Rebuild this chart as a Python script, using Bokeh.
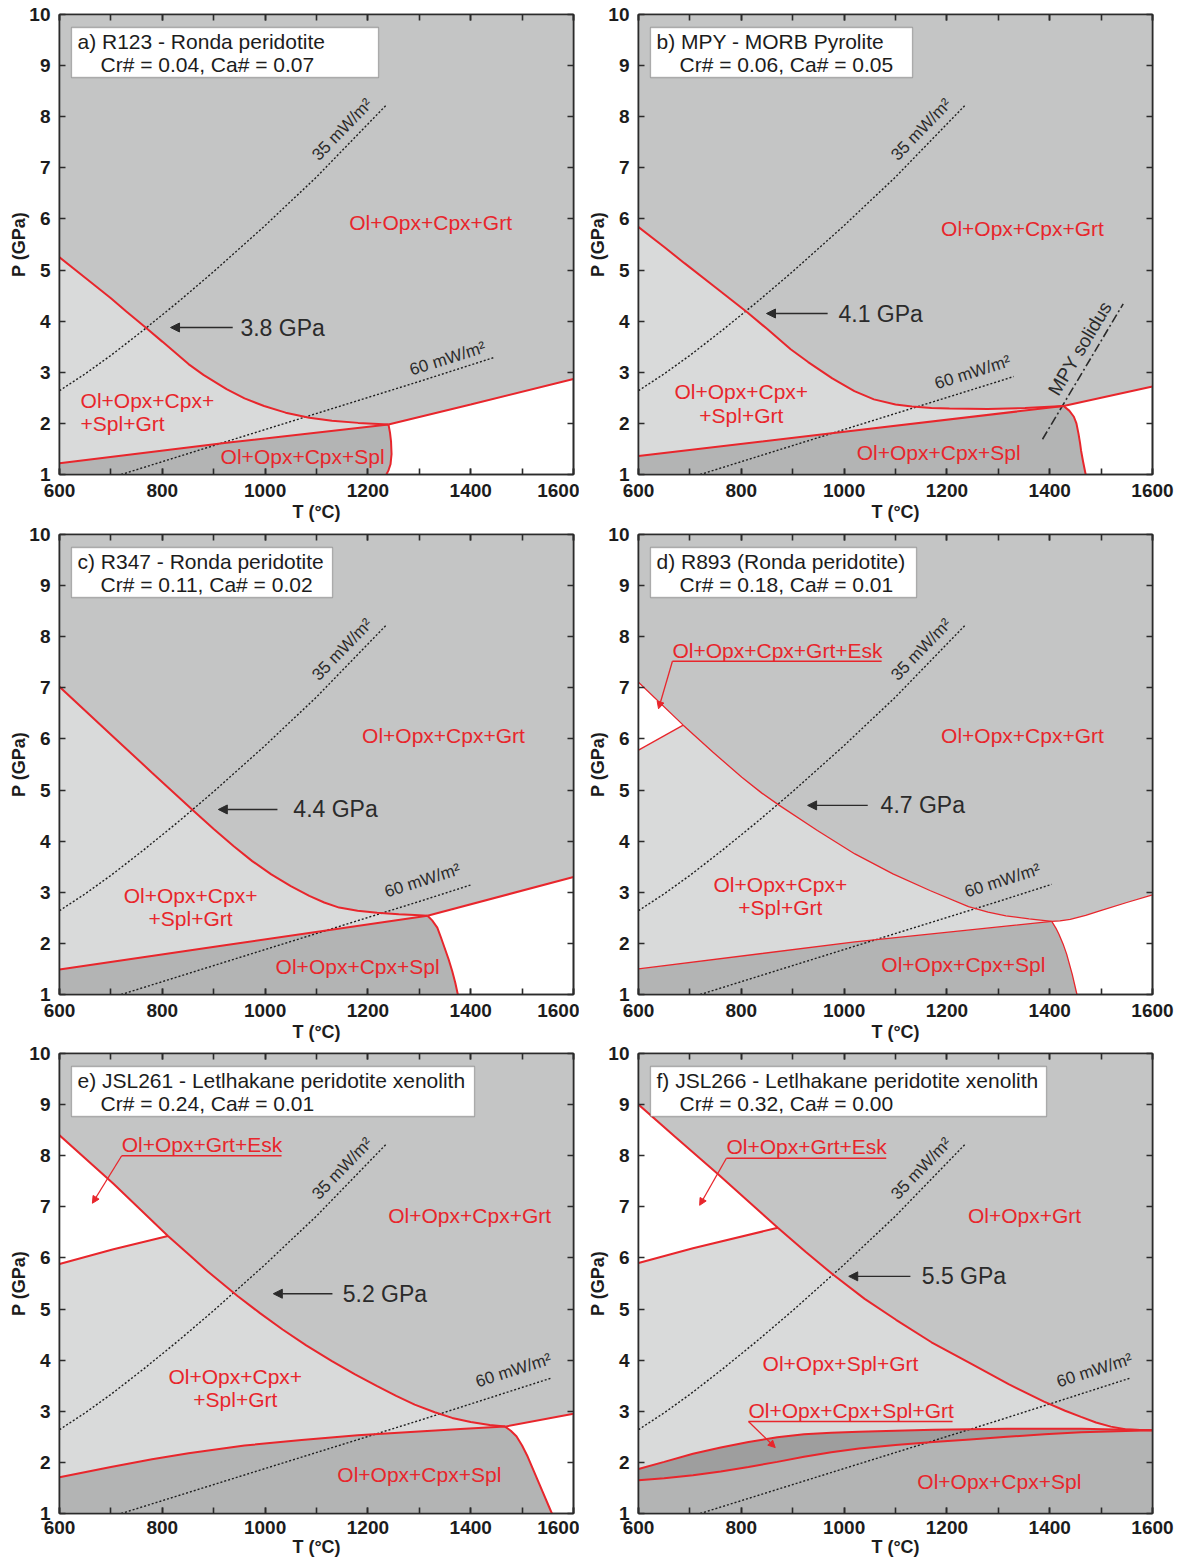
import numpy as np
from bokeh.embed import file_html
from bokeh.layouts import column, row
from bokeh.models import (Arrow, BoxAnnotation, CustomLabelingPolicy, Label, LinearAxis,
                          NormalHead, Range1d, SingleIntervalTicker)
from bokeh.plotting import figure
from bokeh.resources import INLINE

# ---------------------------------------------------------------- samples
panel_letters = ["a", "b", "c", "d", "e", "f"]
sample_names = ["R123 - Ronda peridotite", "MPY - MORB Pyrolite",
                "R347 - Ronda peridotite", "R893 (Ronda peridotite)",
                "JSL261 - Letlhakane peridotite xenolith",
                "JSL266 - Letlhakane peridotite xenolith"]
cr_number = ["0.04", "0.06", "0.11", "0.18", "0.24", "0.32"]
ca_number = ["0.07", "0.05", "0.02", "0.01", "0.01", "0.00"]
# spinel -> garnet transition pressure on the 35 mW/m2 geotherm
transition_gpa = [3.8, 4.1, 4.4, 4.7, 5.2, 5.5]

# ---------------------------------------------------------------- geotherms
geo35_T = [600, 650, 700, 764, 830, 900, 1000, 1100, 1236]
geo35_P = [2.64, 2.97, 3.33, 3.83, 4.37, 4.97, 5.87, 6.82, 8.23]
geo60_T = [720, 1000, 1300, 1560]
geo60_P = [1.00, 1.88, 2.82, 3.66]
geo60_end_T = [1445, 1330, 1401, 1404, 1556, 1557]

mpy_solidus_T = [1386, 1543]
mpy_solidus_P = [1.69, 4.34]

# ---------------------------------------------------------------- phase boundaries
# a) R123
a_spl_out_T = [600, 650, 700, 730, 767, 800, 851, 880, 925, 960, 998, 1040, 1086, 1130, 1181, 1240]
a_spl_out_P = [5.25, 4.85, 4.45, 4.19, 3.88, 3.60, 3.16, 2.95, 2.67, 2.49, 2.34, 2.21, 2.11, 2.05, 2.01, 1.98]
a_grt_in_T = [600, 925, 1240]
a_grt_in_P = [1.22, 1.62, 1.98]
a_sol_grt_T = [1240, 1400, 1600]
a_sol_grt_P = [1.98, 2.37, 2.87]
a_sol_spl_T = [1240, 1243, 1245, 1246, 1244, 1240, 1236]
a_sol_spl_P = [1.98, 1.82, 1.65, 1.40, 1.20, 1.08, 1.00]

# b) MPY
b_spl_out_T = [600, 650, 690, 750, 812, 850, 896, 930, 977, 1020, 1058, 1100, 1132, 1170, 1205, 1279, 1352, 1427]
b_spl_out_P = [5.84, 5.45, 5.13, 4.66, 4.17, 3.85, 3.45, 3.20, 2.88, 2.63, 2.47, 2.37, 2.33, 2.30, 2.29, 2.28, 2.30, 2.34]
b_grt_in_T = [600, 1021, 1427]
b_grt_in_P = [1.36, 1.86, 2.34]
b_sol_grt_T = [1427, 1600]
b_sol_grt_P = [2.34, 2.72]
b_sol_spl_T = [1427, 1438, 1447, 1452, 1456, 1459, 1461, 1465, 1470]
b_sol_spl_P = [2.34, 2.25, 2.13, 2.00, 1.80, 1.62, 1.47, 1.25, 1.00]

# c) R347
c_spl_out_T = [600, 705, 780, 859, 900, 939, 975, 1012, 1050, 1086, 1115, 1144, 1180, 1218, 1260, 1291, 1316]
c_spl_out_P = [7.02, 6.04, 5.34, 4.61, 4.24, 3.90, 3.61, 3.35, 3.12, 2.93, 2.80, 2.70, 2.64, 2.60, 2.57, 2.555, 2.54]
c_grt_in_T = [600, 925, 1316]
c_grt_in_P = [1.49, 1.97, 2.54]
c_sol_grt_T = [1316, 1600]
c_sol_grt_P = [2.54, 3.30]
c_sol_spl_T = [1316, 1325, 1335, 1342, 1349, 1357, 1364, 1370, 1375]
c_sol_spl_P = [2.54, 2.45, 2.31, 2.12, 1.92, 1.69, 1.46, 1.23, 1.00]

# d) R893
d_spl_out_T = [600, 687, 745, 801, 840, 874, 948, 1021, 1095, 1168, 1242, 1280, 1315, 1360, 1404]
d_spl_out_P = [7.11, 6.27, 5.74, 5.25, 4.94, 4.70, 4.21, 3.75, 3.36, 3.03, 2.72, 2.61, 2.54, 2.48, 2.43]
d_esk_out_T = [600, 687]
d_esk_out_P = [5.78, 6.27]
d_grt_in_T = [600, 1021, 1404]
d_grt_in_P = [1.50, 2.03, 2.43]
d_sol_grt_T = [1404, 1420, 1440, 1470, 1499, 1550, 1600]
d_sol_grt_P = [2.43, 2.44, 2.47, 2.55, 2.64, 2.80, 2.95]
d_sol_spl_T = [1404, 1412, 1418, 1426, 1433, 1444, 1453]
d_sol_spl_P = [2.43, 2.30, 2.18, 1.99, 1.79, 1.39, 1.00]

# e) JSL261
e_spl_out_T = [600, 705, 811, 850, 888, 947, 990, 1034, 1080, 1130, 1175, 1218, 1255, 1291, 1330, 1364, 1400, 1437, 1467]
e_spl_out_P = [8.40, 7.45, 6.43, 6.08, 5.74, 5.25, 4.92, 4.60, 4.29, 3.98, 3.72, 3.49, 3.30, 3.13, 2.98, 2.87, 2.79, 2.73, 2.70]
e_esk_out_T = [600, 705, 811]
e_esk_out_P = [5.88, 6.17, 6.43]
e_grt_in_T = [600, 700, 780, 851, 960, 1071, 1180, 1291, 1380, 1467]
e_grt_in_P = [1.71, 1.91, 2.06, 2.18, 2.33, 2.44, 2.53, 2.60, 2.655, 2.70]
e_sol_grt_T = [1467, 1600]
e_sol_grt_P = [2.70, 2.95]
e_sol_spl_T = [1467, 1478, 1489, 1500, 1511, 1533, 1558]
e_sol_spl_P = [2.70, 2.62, 2.51, 2.33, 2.11, 1.59, 1.00]

# f) JSL266
f_spl_out_T = [600, 670, 756, 820, 871, 925, 979, 1040, 1101, 1170, 1245, 1320, 1389, 1430, 1461, 1490, 1519, 1547, 1575, 1600]
f_spl_out_P = [9.00, 8.38, 7.63, 7.05, 6.59, 6.12, 5.67, 5.20, 4.79, 4.35, 3.94, 3.53, 3.19, 3.01, 2.89, 2.78, 2.70, 2.65, 2.635, 2.63]
f_esk_out_T = [600, 706, 871]
f_esk_out_P = [5.90, 6.19, 6.59]
f_cpx_out_T = [600, 650, 706, 760, 814, 870, 922, 975, 1029, 1100, 1173, 1317, 1461, 1600]
f_cpx_out_P = [1.87, 2.01, 2.17, 2.29, 2.40, 2.49, 2.55, 2.58, 2.60, 2.62, 2.64, 2.66, 2.66, 2.63]
f_grt_in_T = [600, 650, 706, 760, 814, 870, 922, 975, 1029, 1100, 1173, 1245, 1317, 1390, 1461, 1530, 1600]
f_grt_in_P = [1.65, 1.69, 1.75, 1.82, 1.91, 2.01, 2.11, 2.20, 2.27, 2.34, 2.40, 2.45, 2.50, 2.55, 2.59, 2.61, 2.63]

# ---------------------------------------------------------------- style
FONT = "Liberation Sans"
RED = "#e8262c"
INK = "#2b2b2b"
GRT_FILL = "#c4c5c5"
SPGRT_FILL = "#d9dada"
SPL_FILL = "#b3b4b4"
BAND_FILL = "#9e9e9e"
T_MIN, T_MAX, P_MIN, P_MAX = 600, 1600, 1, 10

PANELS = [
    dict(spl_out=(a_spl_out_T, a_spl_out_P), grt_in=(a_grt_in_T, a_grt_in_P),
         sol_grt=(a_sol_grt_T, a_sol_grt_P), sol_spl=(a_sol_spl_T, a_sol_spl_P),
         lw=2.0, box_w=319,
         fields=[("Ol+Opx+Cpx+Grt", 1322, 5.93, "center"), ("Ol+Opx+Cpx+", 641, 2.45, "left"),
                 ("+Spl+Grt", 641, 2.00, "left"), ("Ol+Opx+Cpx+Spl", 1073, 1.35, "center")],
         arrow=(816, 3.876, 937, 952), lab60=(1355, 3.27)),
    dict(spl_out=(b_spl_out_T, b_spl_out_P), grt_in=(b_grt_in_T, b_grt_in_P),
         sol_grt=(b_sol_grt_T, b_sol_grt_P), sol_spl=(b_sol_spl_T, b_sol_spl_P),
         lw=2.0, box_w=274,
         fields=[("Ol+Opx+Cpx+Grt", 1347, 5.81, "center"), ("Ol+Opx+Cpx+", 800, 2.62, "center"),
                 ("+Spl+Grt", 800, 2.15, "center"), ("Ol+Opx+Cpx+Spl", 1184, 1.43, "center")],
         arrow=(849, 4.15, 968, 989), lab60=(1250, 3.00), solidus=True),
    dict(spl_out=(c_spl_out_T, c_spl_out_P), grt_in=(c_grt_in_T, c_grt_in_P),
         sol_grt=(c_sol_grt_T, c_sol_grt_P), sol_spl=(c_sol_spl_T, c_sol_spl_P),
         lw=2.0, box_w=273,
         fields=[("Ol+Opx+Cpx+Grt", 1347, 6.07, "center"), ("Ol+Opx+Cpx+", 855, 2.94, "center"),
                 ("+Spl+Grt", 855, 2.49, "center"), ("Ol+Opx+Cpx+Spl", 1180, 1.55, "center")],
         arrow=(909, 4.62, 1024, 1055), lab60=(1306, 3.23)),
    dict(spl_out=(d_spl_out_T, d_spl_out_P), grt_in=(d_grt_in_T, d_grt_in_P),
         sol_grt=(d_sol_grt_T, d_sol_grt_P), sol_spl=(d_sol_spl_T, d_sol_spl_P),
         esk=(d_esk_out_T, d_esk_out_P), lw=1.3, box_w=278,
         fields=[("Ol+Opx+Cpx+Grt", 1347, 6.07, "center"), ("Ol+Opx+Cpx+", 876, 3.15, "center"),
                 ("+Spl+Grt", 876, 2.70, "center"), ("Ol+Opx+Cpx+Spl", 1232, 1.59, "center")],
         callouts=[("Ol+Opx+Cpx+Grt+Esk", 666, 7.73, 7.52, 1073, 639, 6.59)],
         arrow=(929, 4.70, 1046, 1071), lab60=(1308, 3.23)),
    dict(spl_out=(e_spl_out_T, e_spl_out_P), grt_in=(e_grt_in_T, e_grt_in_P),
         sol_grt=(e_sol_grt_T, e_sol_grt_P), sol_spl=(e_sol_spl_T, e_sol_spl_P),
         esk=(e_esk_out_T, e_esk_out_P), lw=2.0, box_w=415,
         fields=[("Ol+Opx+Cpx+Grt", 1398, 6.83, "center"), ("Ol+Opx+Cpx+", 942, 3.68, "center"),
                 ("+Spl+Grt", 942, 3.23, "center"), ("Ol+Opx+Cpx+Spl", 1300, 1.76, "center")],
         callouts=[("Ol+Opx+Grt+Esk", 721, 8.22, 8.00, 1032, 664, 7.07)],
         arrow=(1016, 5.30, 1131, 1151), lab60=(1483, 3.80)),
    dict(spl_out=(f_spl_out_T, f_spl_out_P), grt_in=(f_grt_in_T, f_grt_in_P),
         esk=(f_esk_out_T, f_esk_out_P), cpx=(f_cpx_out_T, f_cpx_out_P), lw=2.0, box_w=408,
         fields=[("Ol+Opx+Grt", 1351, 6.83, "center"), ("Ol+Opx+Spl+Grt", 993, 3.93, "center"),
                 ("Ol+Opx+Cpx+Spl", 1302, 1.63, "center")],
         callouts=[("Ol+Opx+Grt+Esk", 771, 8.18, 7.95, 1082, 719, 7.03),
                   ("Ol+Opx+Cpx+Spl+Grt", 814, 3.02, 2.80, 1211, 866, 2.29)],
         arrow=(1009, 5.64, 1129, 1151), lab60=(1487, 3.80)),
]

FRAME_W, FRAME_H = 514, 460


def px_T(dx):
    """horizontal screen offset from the frame's left edge -> temperature"""
    return T_MIN + dx * (T_MAX - T_MIN) / FRAME_W


def px_P(dy):
    """vertical screen offset from the frame's top edge -> pressure"""
    return P_MAX - dy * (P_MAX - P_MIN) / FRAME_H


def screen_angle_deg(slope):
    return np.degrees(np.arctan(slope * (FRAME_H / (P_MAX - P_MIN)) / (FRAME_W / (T_MAX - T_MIN))))


def clip_line(T, P, t_end):
    T = np.asarray(T, float)
    P = np.asarray(P, float)
    keep = T < t_end
    return list(T[keep]) + [t_end], list(P[keep]) + [float(np.interp(t_end, T, P))]


def style_axis(ax, ticker, labelled):
    ax.ticker = ticker
    ax.axis_line_color = INK
    ax.axis_line_width = 1.6
    ax.major_tick_line_color = INK
    ax.major_tick_line_width = 1.6
    ax.major_tick_in = 6
    ax.major_tick_out = 0
    ax.minor_tick_line_color = INK
    ax.minor_tick_line_width = 1.6
    ax.minor_tick_in = 6
    ax.minor_tick_out = 0
    ax.major_label_text_font = FONT
    ax.major_label_text_font_style = "bold"
    ax.major_label_text_color = "#1c1c1c"
    ax.axis_label_text_font = FONT
    ax.axis_label_text_font_style = "bold"
    ax.axis_label_text_font_size = "18px"
    ax.axis_label_text_color = "#1c1c1c"
    if labelled:
        ax.major_label_text_font_size = "19px"
    else:
        # ticks only on the top / right edges of the frame
        ax.major_label_text_font_size = "1px"
        ax.major_label_standoff = 0
        ax.major_label_policy = CustomLabelingPolicy(code="return []")


def build_panel(i, width, height, b_left, b_right, b_top, b_bottom, x_standoffs):
    cfg = PANELS[i]
    p = figure(width=width, height=height,
               x_range=Range1d(T_MIN, T_MAX), y_range=Range1d(P_MIN, P_MAX),
               min_border_left=b_left, min_border_right=b_right,
               min_border_top=b_top, min_border_bottom=b_bottom,
               output_backend="svg", toolbar_location=None,
               background_fill_color="white", border_fill_color="white")
    p.grid.visible = False
    p.outline_line_color = INK
    p.outline_line_width = 1.6

    xtick = lambda: SingleIntervalTicker(interval=200, num_minor_ticks=2)
    ytick = lambda: SingleIntervalTicker(interval=1, num_minor_ticks=0)
    style_axis(p.xaxis[0], xtick(), True)
    style_axis(p.yaxis[0], ytick(), True)
    p.xaxis[0].axis_label = "T (°C)"
    p.yaxis[0].axis_label = "P (GPa)"
    p.xaxis[0].major_label_standoff = x_standoffs[0]
    p.xaxis[0].axis_label_standoff = x_standoffs[1]
    p.yaxis[0].major_label_standoff = 9
    p.yaxis[0].axis_label_standoff = -3
    top_ax = LinearAxis()
    style_axis(top_ax, xtick(), False)
    p.add_layout(top_ax, "above")
    right_ax = LinearAxis()
    style_axis(right_ax, ytick(), False)
    p.add_layout(right_ax, "right")

    uT, uP = cfg["spl_out"]
    gT, gP = cfg["grt_in"]

    # --- phase fields
    if "sol_grt" in cfg:
        sT, sP = cfg["sol_grt"]
        lT, lP = cfg["sol_spl"]
        p.patch([T_MIN, T_MAX] + sT[::-1] + uT[::-1], [P_MAX, P_MAX] + sP[::-1] + uP[::-1],
                fill_color=GRT_FILL, line_color=None)
        p.patch(uT + gT[::-1], uP + gP[::-1], fill_color=SPGRT_FILL, line_color=None)
        p.patch(gT + lT + [T_MIN], gP + lP + [P_MIN], fill_color=SPL_FILL, line_color=None)
    else:
        cT, cP = cfg["cpx"]
        p.patch([T_MIN, T_MAX] + uT[::-1], [P_MAX, P_MAX] + uP[::-1],
                fill_color=GRT_FILL, line_color=None)
        p.patch(uT + cT[::-1], uP + cP[::-1], fill_color=SPGRT_FILL, line_color=None)
        p.patch(cT + gT[::-1], cP + gP[::-1], fill_color=BAND_FILL, line_color=None)
        p.patch(gT + [T_MAX, T_MIN], gP + [P_MIN, P_MIN], fill_color=SPL_FILL, line_color=None)
    if "esk" in cfg:
        eT, eP = cfg["esk"]
        t_cut = eT[-1]
        upT = [t for t in uT if t <= t_cut]
        upP = uP[:len(upT)]
        p.patch(upT + eT[::-1], upP + eP[::-1], fill_color="white", line_color=None)

    # --- geotherms
    p.line(geo35_T, geo35_P, line_color="#1e1e1e", line_width=1.4, line_dash="2 2")
    g6T, g6P = clip_line(geo60_T, geo60_P, geo60_end_T[i])
    p.line(g6T, g6P, line_color="#1e1e1e", line_width=1.4, line_dash="2 2")
    p.add_layout(Label(x=1150, y=7.75, text="35 mW/m²", angle=46, angle_units="deg",
                       text_align="center", text_baseline="middle", text_font=FONT,
                       text_font_size="17px", text_color=INK))
    ang60 = screen_angle_deg((geo60_P[-1] - geo60_P[0]) / (geo60_T[-1] - geo60_T[0]))
    p.add_layout(Label(x=cfg["lab60"][0], y=cfg["lab60"][1], text="60 mW/m²", angle=ang60,
                       angle_units="deg", text_align="center", text_baseline="middle",
                       text_font=FONT, text_font_size="17px", text_color=INK))

    if cfg.get("solidus"):
        p.line(mpy_solidus_T, mpy_solidus_P, line_color=INK, line_width=1.6,
               line_dash="9 3 2 3")
        ang = screen_angle_deg((mpy_solidus_P[1] - mpy_solidus_P[0]) /
                               (mpy_solidus_T[1] - mpy_solidus_T[0]))
        p.add_layout(Label(x=1459, y=3.47, text="MPY solidus", angle=ang, angle_units="deg",
                           text_align="center", text_baseline="middle", text_font=FONT,
                           text_font_size="19px", text_color=INK))

    # --- boundaries
    lw = cfg["lw"]
    p.line(uT, uP, line_color=RED, line_width=lw)
    p.line(gT, gP, line_color=RED, line_width=lw)
    if "sol_grt" in cfg:
        p.line(*cfg["sol_grt"], line_color=RED, line_width=lw)
        p.line(*cfg["sol_spl"], line_color=RED, line_width=lw)
    if "esk" in cfg:
        p.line(*cfg["esk"], line_color=RED, line_width=lw)
    if "cpx" in cfg:
        p.line(*cfg["cpx"], line_color=RED, line_width=lw)

    # --- field names
    for text, t, pr, align in cfg["fields"]:
        p.add_layout(Label(x=t, y=pr, text=text, text_align=align, text_baseline="middle",
                           text_font=FONT, text_font_size="21px", text_color=RED))
    for text, t0, p_txt, p_ul, t1, tip_t, tip_p in cfg.get("callouts", []):
        p.add_layout(Label(x=t0, y=p_txt, text=text, text_align="left", text_baseline="middle",
                           text_font=FONT, text_font_size="21px", text_color=RED))
        p.line([t0, t1], [p_ul, p_ul], line_color=RED, line_width=1.5)
        p.add_layout(Arrow(x_start=t0, y_start=p_ul, x_end=tip_t, y_end=tip_p,
                           line_color=RED, line_width=1.3,
                           end=NormalHead(size=7, fill_color=RED, line_color=RED)))

    # --- transition pressure on the cold geotherm
    tip_t, tip_p, tail_t, text_t = cfg["arrow"]
    p.add_layout(Arrow(x_start=tail_t, y_start=tip_p, x_end=tip_t, y_end=tip_p,
                       line_color=INK, line_width=1.4,
                       end=NormalHead(size=9, fill_color=INK, line_color=INK)))
    p.add_layout(Label(x=text_t, y=tip_p, text=f"{transition_gpa[i]:.1f} GPa",
                       text_align="left", text_baseline="middle", text_font=FONT,
                       text_font_size="23px", text_color=INK))

    # --- sample box
    p.add_layout(BoxAnnotation(left=px_T(12), right=px_T(cfg["box_w"]),
                               top=px_P(13), bottom=px_P(63),
                               fill_color="white", fill_alpha=1.0,
                               line_color=INK, line_width=1.3, level="annotation"))
    p.add_layout(Label(x=px_T(18), y=px_P(27), text=f"{panel_letters[i]}) {sample_names[i]}",
                       text_align="left", text_baseline="middle", text_font=FONT,
                       text_font_size="21px", text_color="#1c1c1c"))
    p.add_layout(Label(x=px_T(41), y=px_P(50),
                       text=f"Cr# = {cr_number[i]}, Ca# = {ca_number[i]}",
                       text_align="left", text_baseline="middle", text_font=FONT,
                       text_font_size="21px", text_color="#1c1c1c"))
    return p


# (top border, bottom border, tick-label standoff, axis-label standoff) for each row
row_spec = [(14, 50, 9, 2), (10, 50, 9, 2), (9, 46, 7, 0)]
rows = []
for r, (top, bottom, s_tick, s_lab) in enumerate(row_spec):
    h = top + FRAME_H + bottom
    left_fig = build_panel(2 * r, 579, h, 59, 6, top, bottom, (s_tick, s_lab))
    right_fig = build_panel(2 * r + 1, 604, h, 59, 31, top, bottom, (s_tick, s_lab))
    rows.append(row(left_fig, right_fig))

layout = column(*rows)
open("out.html", "w").write(file_html(layout, INLINE))
